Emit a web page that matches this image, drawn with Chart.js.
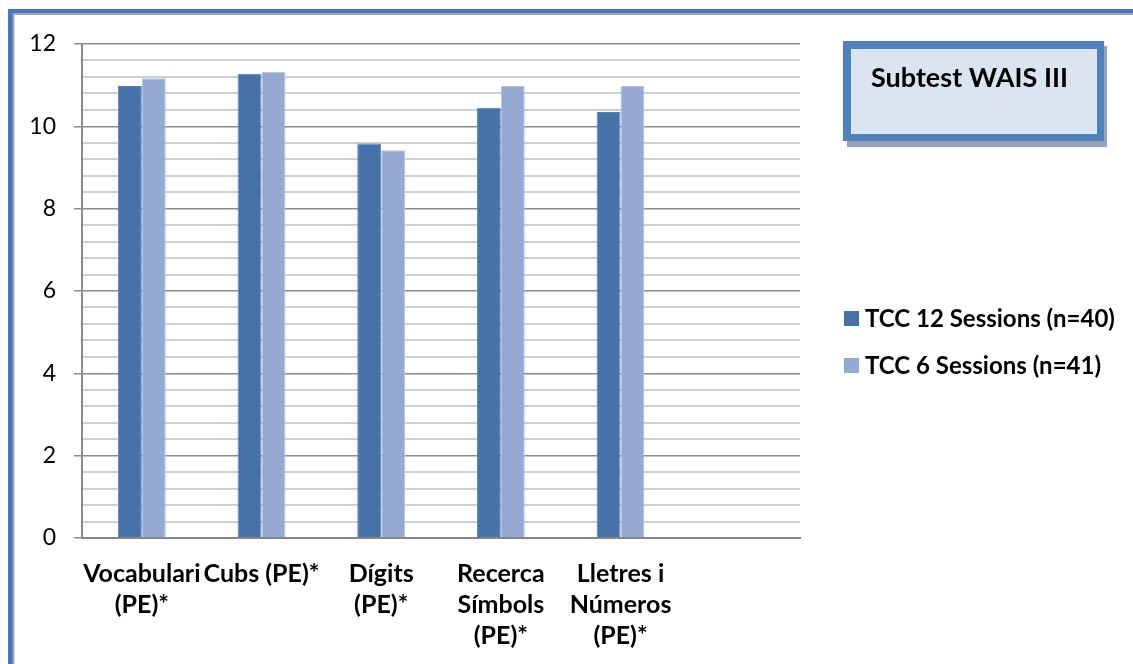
<!DOCTYPE html>
<html>
<head>
<meta charset="utf-8">
<script src="https://cdn.jsdelivr.net/npm/chart.js@4/dist/chart.umd.min.js"></script>
<style>
  html, body { margin: 0; padding: 0; background: #ffffff; overflow: hidden; }
  #wrap { position: relative; width: 1133px; height: 664px; }
  canvas { display: block; }
</style>
</head>
<body>
<div id="wrap"><canvas id="c" width="1133" height="664"></canvas></div>
<script>
// WAIS III subtest scores (PE) per therapy group
const categories = [
  ["Vocabulari", "(PE)*"],
  ["Cubs (PE)*"],
  ["Dígits", "(PE)*"],
  ["Recerca", "Símbols", "(PE)*"],
  ["Lletres i", "Números", "(PE)*"],
  ""
];
const seriesNames = ["TCC 12 Sessions (n=40)", "TCC 6 Sessions (n=41)"];
const tcc12 = [10.98, 11.28, 9.58, 10.45, 10.35, null];
const tcc6 = [11.17, 11.32, 9.42, 10.98, 10.98, null];
const yTickLabels = [0, 2, 4, 6, 8, 10, 12];
const boxTitle = "Subtest WAIS III";

const FONT = "Lato, 'Open Sans', 'Liberation Sans', sans-serif";
const DARK = "#4672A8";
const LIGHT = "#94AAD0";

function isMajor(v) {
  return yTickLabels.some(t => Math.abs(t - v) < 1e-6);
}

// Page frame, title box and legend drawn around the plot
const decorations = {
  id: "decorations",
  beforeDraw(chart) {
    const ctx = chart.ctx;
    ctx.save();
    ctx.fillStyle = "#ffffff";
    ctx.fillRect(0, 0, chart.width, chart.height);
    // frame lines (top and left)
    ctx.fillStyle = "#A6A6A6";
    ctx.fillRect(8, 12.5, chart.width - 8, 2.5);
    ctx.fillRect(12, 12, 2.5, chart.height - 12);
    ctx.fillStyle = "#4A74C4";
    ctx.fillRect(8, 9, chart.width - 8, 4);
    ctx.fillRect(8, 9, 4.5, chart.height - 9);
    ctx.restore();
  },
  afterDraw(chart) {
    const ctx = chart.ctx;
    ctx.save();
    // title box with shadow
    ctx.fillStyle = "#95A3B8";
    ctx.fillRect(847, 46, 260, 101);
    ctx.fillStyle = "#4F81BD";
    ctx.fillRect(843, 41, 261, 100);
    ctx.fillStyle = "#DBE5F1";
    ctx.fillRect(851, 49, 246, 85);
    ctx.fillStyle = "#000000";
    ctx.font = "bold 27px " + FONT;
    ctx.textBaseline = "alphabetic";
    ctx.textAlign = "left";
    ctx.fillText(boxTitle, 871, 87);

    // legend
    const rows = [318.5, 365.5];
    chart.data.datasets.forEach((ds, i) => {
      const y = rows[i];
      ctx.fillStyle = ds.backgroundColor;
      ctx.fillRect(844, y - 7.5, 15, 15);
      ctx.fillStyle = "#000000";
      ctx.font = "bold 24px " + FONT;
      ctx.textBaseline = "middle";
      ctx.fillText(ds.label, 865, y + 1);
    });
    ctx.restore();
  }
};

new Chart(document.getElementById("c"), {
  type: "bar",
  data: {
    labels: categories,
    datasets: [
      {
        label: seriesNames[0],
        data: tcc12,
        backgroundColor: DARK,
        borderColor: "#5A84B8",
        borderWidth: 1,
        categoryPercentage: 0.4,
        barPercentage: 1.0
      },
      {
        label: seriesNames[1],
        data: tcc6,
        backgroundColor: LIGHT,
        borderColor: "#B4C5E2",
        borderWidth: 1,
        categoryPercentage: 0.4,
        barPercentage: 1.0
      }
    ]
  },
  options: {
    responsive: false,
    animation: false,
    devicePixelRatio: 1,
    layout: { padding: { left: 0, top: 44, right: 333, bottom: 0 } },
    plugins: {
      legend: { display: false },
      tooltip: { enabled: false },
      title: { display: false }
    },
    scales: {
      x: {
        grid: { display: false, drawTicks: false },
        border: { display: true, color: "#868686", width: 2 },
        ticks: {
          autoSkip: false,
          maxRotation: 0,
          minRotation: 0,
          padding: 20,
          color: "#000000",
          font: { family: FONT, size: 25, weight: "bold", lineHeight: 1.24 }
        },
        afterFit(scale) { scale.height = 126; }
      },
      y: {
        min: 0,
        max: 12,
        grid: {
          drawTicks: true,
          tickLength: 8,
          color: ctx => (ctx.tick && isMajor(ctx.tick.value)) ? "#8C8C8C" : "#CFCFCF",
          lineWidth: ctx => (ctx.tick && isMajor(ctx.tick.value)) ? 1.5 : 2,
          tickColor: ctx => (ctx.tick && isMajor(ctx.tick.value)) ? "#8C8C8C" : "rgba(0,0,0,0)",
          tickWidth: 1.5
        },
        border: { display: true, color: "#8C8C8C", width: 2 },
        ticks: {
          stepSize: 0.4,
          autoSkip: false,
          padding: 18,
          color: "#000000",
          font: { family: FONT, size: 23 },
          callback: v => isMajor(v) ? String(Math.round(v)) : ""
        },
        afterFit(scale) { scale.width = 82; }
      }
    }
  },
  plugins: [decorations]
});
</script>
</body>
</html>
